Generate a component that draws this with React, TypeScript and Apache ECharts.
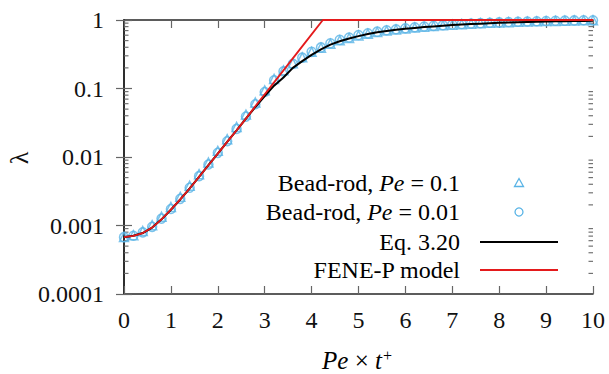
import React, { useEffect, useRef } from 'react';
import * as echarts from 'echarts';

// ---- data ----
const tValues = [0, 0.2, 0.4, 0.6, 0.8, 1.0, 1.2, 1.4, 1.6, 1.8, 2.0, 2.2, 2.4, 2.6, 2.8, 3.0, 3.2, 3.4, 3.6, 3.8, 4.0, 4.2, 4.4, 4.6, 4.8, 5.0, 5.2, 5.4, 5.6, 5.8, 6.0, 6.2, 6.4, 6.6, 6.8, 7.0, 7.2, 7.4, 7.6, 7.8, 8.0, 8.2, 8.4, 8.6, 8.8, 9.0, 9.2, 9.4, 9.6, 9.8, 10.0];

// Bead-rod, Pe = 0.1 (triangles)
const beadRodPe01 = [0.00068, 0.00072, 0.00083, 0.00101, 0.00134, 0.00186, 0.00262, 0.0038, 0.00562, 0.0083, 0.0123, 0.0182, 0.0275, 0.0416, 0.0625, 0.094, 0.138, 0.184, 0.234, 0.285, 0.343, 0.395, 0.45, 0.505, 0.548, 0.594, 0.63, 0.668, 0.7, 0.726, 0.752, 0.776, 0.798, 0.817, 0.836, 0.854, 0.87, 0.883, 0.896, 0.908, 0.919, 0.93, 0.939, 0.948, 0.956, 0.963, 0.97, 0.976, 0.983, 0.988, 0.991];

// Bead-rod, Pe = 0.01 (circles)
const beadRodPe001 = [0.000676, 0.000708, 0.000794, 0.000955, 0.00126, 0.00174, 0.00245, 0.00355, 0.00525, 0.00776, 0.0115, 0.017, 0.0257, 0.0389, 0.0589, 0.0891, 0.132, 0.178, 0.229, 0.282, 0.343, 0.398, 0.457, 0.513, 0.556, 0.603, 0.638, 0.676, 0.708, 0.733, 0.759, 0.782, 0.804, 0.822, 0.841, 0.859, 0.875, 0.887, 0.9, 0.912, 0.923, 0.933, 0.942, 0.951, 0.959, 0.966, 0.973, 0.979, 0.986, 0.991, 0.993];

// Eq. 3.20 (black curve)
const eq320 = [0.000676, 0.000708, 0.000776, 0.000933, 0.00123, 0.0017, 0.0024, 0.00347, 0.00513, 0.00759, 0.0112, 0.0166, 0.0245, 0.0363, 0.0537, 0.0776, 0.11, 0.145, 0.2, 0.251, 0.309, 0.372, 0.437, 0.49, 0.537, 0.582, 0.624, 0.661, 0.692, 0.721, 0.745, 0.767, 0.789, 0.807, 0.826, 0.843, 0.859, 0.873, 0.885, 0.897, 0.908, 0.918, 0.927, 0.935, 0.942, 0.948, 0.955, 0.962, 0.966, 0.971, 0.975];

// FENE-P model (red curve)
const feneT = [0, 0.2, 0.4, 0.6, 0.8, 1.0, 1.2, 1.4, 1.6, 1.8, 2.0, 2.2, 2.4, 2.6, 2.8, 3.0, 3.2, 3.4, 3.6, 3.8, 4.0, 4.24, 10];
const feneLambda = [0.000676, 0.000708, 0.000776, 0.000933, 0.00123, 0.0017, 0.0024, 0.00347, 0.00513, 0.00759, 0.0112, 0.0166, 0.0245, 0.0363, 0.055, 0.0822, 0.123, 0.184, 0.275, 0.412, 0.617, 1.0, 1.0];

const yTickLabels = ['0.0001', '0.001', '0.01', '0.1', '1'];
const xTickLabels = ['0', '1', '2', '3', '4', '5', '6', '7', '8', '9', '10'];
const minorDecades = [0.0001, 0.001, 0.01, 0.1];
const minorMultipliers = [2, 3, 4, 5, 6, 7, 8, 9];

const legendNames = ['Bead-rod, Pe = 0.1', 'Bead-rod, Pe = 0.01', 'Eq. 3.20', 'FENE-P model'];

const FONT = 'Liberation Serif';
const FS = 24;
const BLUE = '#5ab4e6';
const RED = '#e41a1c';
const AXIS = '#262626';
const TICK = '#666666';

export default function App() {
  const ref = useRef<HTMLDivElement>(null);

  useEffect(() => {
    if (!ref.current) return;
    const chart = echarts.init(ref.current, undefined, { renderer: 'svg' });

    const minorTickValues: number[] = [];
    minorDecades.forEach((d) => minorMultipliers.forEach((m) => minorTickValues.push(+(d * m).toPrecision(3))));

    const yAxisBase = {
      type: 'log' as const,
      logBase: 10,
      min: 0.0001,
      max: 1,
      axisLine: { show: true, lineStyle: { color: AXIS, width: 1.6 } },
      axisTick: { show: true, inside: true, length: 8, lineStyle: { color: TICK, width: 1.2 } },
      splitLine: { show: false },
      minorTick: { show: false },
    };
    const xAxisBase = {
      type: 'value' as const,
      min: 0,
      max: 10,
      interval: 1,
      axisLine: { show: true, lineStyle: { color: AXIS, width: 1.6 } },
      axisTick: { show: true, inside: true, length: 8, lineStyle: { color: TICK, width: 1.2 } },
      splitLine: { show: false },
    };

    const rich = {
      r: { fontFamily: FONT, fontSize: FS, color: '#111' },
      i: { fontFamily: FONT, fontSize: FS, fontStyle: 'italic', color: '#111' },
    };
    const legendRich = (s: string) => {
      const idx = s.indexOf('Pe');
      if (idx < 0) return `{r|${s}}`;
      return `{r|${s.slice(0, idx)}}{i|Pe}{r|${s.slice(idx + 2)}}`;
    };

    const legendX = 460;
    const rowY = [183, 212, 242, 270];
    const symX = 519;

    chart.setOption({
      animation: false,
      backgroundColor: '#ffffff',
      textStyle: { fontFamily: FONT },
      grid: { left: 124, right: 16, top: 20, bottom: 80, containLabel: false },
      xAxis: [
        {
          ...xAxisBase,
          position: 'bottom',
          axisLabel: {
            margin: 14,
            fontFamily: FONT,
            fontSize: FS,
            color: '#111',
            formatter: (v: number) => xTickLabels[Math.round(v)] ?? '',
          },
        },
        { ...xAxisBase, position: 'top', axisLabel: { show: false } },
      ],
      yAxis: [
        {
          ...yAxisBase,
          position: 'left',
          axisLabel: {
            margin: 20,
            fontFamily: FONT,
            fontSize: FS,
            color: '#111',
            formatter: (v: number) => yTickLabels[Math.round(Math.log10(v)) + 4] ?? '',
          },
        },
        { ...yAxisBase, position: 'right', axisLabel: { show: false } },
      ],
      series: [
        {
          type: 'custom',
          name: 'minorTicks',
          xAxisIndex: 0,
          yAxisIndex: 0,
          silent: true,
          clip: false,
          data: minorTickValues.map((v) => [0, v]),
          renderItem: (params: any, api: any) => {
            const v = api.value(1);
            const l = api.coord([0, v]);
            const r = api.coord([10, v]);
            return {
              type: 'group',
              children: [
                { type: 'line', shape: { x1: l[0], y1: l[1], x2: l[0] + 4.5, y2: l[1] }, style: { stroke: TICK, lineWidth: 1.1 } },
                { type: 'line', shape: { x1: r[0] - 4.5, y1: r[1], x2: r[0], y2: r[1] }, style: { stroke: TICK, lineWidth: 1.1 } },
              ],
            };
          },
        },
        {
          type: 'scatter',
          name: legendNames[0],
          symbol: 'triangle',
          symbolSize: 9,
          itemStyle: { color: 'rgba(0,0,0,0)', borderColor: BLUE, borderWidth: 1.5 },
          data: tValues.map((t, i) => [t, beadRodPe01[i]]),
          clip: false,
        },
        {
          type: 'scatter',
          name: legendNames[1],
          symbol: 'circle',
          symbolSize: 9,
          itemStyle: { color: 'rgba(0,0,0,0)', borderColor: BLUE, borderWidth: 1.5 },
          data: tValues.map((t, i) => [t, beadRodPe001[i]]),
          clip: false,
        },
        {
          type: 'line',
          name: legendNames[2],
          symbol: 'none',
          lineStyle: { color: '#000', width: 2 },
          data: tValues.map((t, i) => [t, eq320[i]]),
          clip: false,
        },
        {
          type: 'line',
          name: legendNames[3],
          symbol: 'none',
          lineStyle: { color: RED, width: 1.8 },
          data: feneT.map((t, i) => [t, feneLambda[i]]),
          clip: false,
        },
      ],
      graphic: [
        // legend
        ...legendNames.map((n, i) => ({
          type: 'text',
          x: legendX,
          y: rowY[i],
          style: { text: legendRich(n), rich, align: 'right', verticalAlign: 'middle', fontFamily: FONT, fontSize: FS },
        })),
        {
          type: 'polygon',
          shape: { points: [[symX, rowY[0] - 4.5], [symX + 4.5, rowY[0] + 3.5], [symX - 4.5, rowY[0] + 3.5]] },
          style: { fill: 'none', stroke: BLUE, lineWidth: 1.3 },
        },
        {
          type: 'circle',
          shape: { cx: symX, cy: rowY[1], r: 4 },
          style: { fill: 'none', stroke: BLUE, lineWidth: 1.3 },
        },
        { type: 'line', shape: { x1: 480, y1: rowY[2], x2: 558, y2: rowY[2] }, style: { stroke: '#000', lineWidth: 2 } },
        { type: 'line', shape: { x1: 480, y1: rowY[3], x2: 558, y2: rowY[3] }, style: { stroke: RED, lineWidth: 1.8 } },
        // axis names
        {
          type: 'text',
          x: 19,
          y: 158,
          rotation: Math.PI / 2,
          style: { text: 'λ', fontFamily: FONT, fontSize: 26, fill: '#111', align: 'center', verticalAlign: 'middle' },
        },
        {
          type: 'text',
          x: 357,
          y: 360,
          style: {
            text: '{i|Pe}{r| × }{i|t}{s|+}',
            fontFamily: FONT,
            fontSize: 25,
            rich: {
              i: { fontFamily: FONT, fontSize: 25, fontStyle: 'italic', color: '#111' },
              r: { fontFamily: FONT, fontSize: 25, color: '#111' },
              s: { fontFamily: FONT, fontSize: 16, color: '#111', verticalAlign: 'top', padding: [0, 0, 0, 1] },
            },
            align: 'center',
            verticalAlign: 'middle',
          },
        },
      ],
    });

    return () => chart.dispose();
  }, []);

  return (
    <div
      ref={ref}
      style={{ position: 'fixed', left: 0, top: 0, width: 609, height: 374 }}
    />
  );
}
